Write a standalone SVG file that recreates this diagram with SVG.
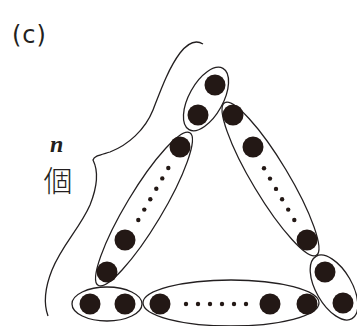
<svg xmlns="http://www.w3.org/2000/svg" width="357" height="326" viewBox="0 0 357 326">
<style>
.ell{fill:none;stroke:#231f20;stroke-width:1.3}
.dot{fill:#231815}
.sd{fill:#231815}
.br{fill:none;stroke:#231f20;stroke-width:1.3}
</style>
<rect width="357" height="326" fill="#fff"/>
<text x="12" y="43" font-family="'DejaVu Sans', sans-serif" font-size="24" letter-spacing="1" fill="#231f20">(c)</text>
<text x="50" y="152" font-family="'Liberation Serif', serif" font-size="24" font-style="italic" font-weight="bold" fill="#231f20">n</text>
<text x="58" y="192" font-family="'Noto Sans CJK JP', sans-serif" font-size="29" font-weight="300" text-anchor="middle" fill="#231f20">個</text>
<g id="connectors">
<path class="br" d="M203,44 C195,39 187,44 180,53 C168,69 160,92 153,110 C145,130 128,145 110,152 C100,155 94,156 93,160 C98,170 98,185 90,205 C80,228 62,245 52,270 C44,290 44,305 48,316"/>
</g>
<g id="top">
<ellipse class="ell" cx="206" cy="99" rx="35" ry="17" transform="rotate(-61 206 99)"/>
<circle class="dot" cx="215" cy="85" r="10.5"/>
<circle class="dot" cx="198" cy="115" r="10.5"/>
</g>
<g id="left">
<ellipse class="ell" cx="144" cy="209" rx="89" ry="18" transform="rotate(-59 144 209)"/>
<circle class="dot" cx="180" cy="147" r="10.5"/>
<circle class="dot" cx="125" cy="240" r="10.5"/>
<circle class="dot" cx="107" cy="272" r="10.5"/>
<circle class="sd" cx="138.3" cy="220" r="2.2"/>
<circle class="sd" cx="144.3" cy="209.6" r="2.2"/>
<circle class="sd" cx="150.3" cy="199.2" r="2.2"/>
<circle class="sd" cx="156.3" cy="188.8" r="2.2"/>
<circle class="sd" cx="162.3" cy="178.4" r="2.2"/>
<circle class="sd" cx="168.3" cy="168" r="2.2"/>
</g>
<g id="right">
<ellipse class="ell" cx="270.5" cy="179" rx="89" ry="18" transform="rotate(59 270.5 179)"/>
<circle class="dot" cx="233" cy="115" r="10.5"/>
<circle class="dot" cx="253" cy="147" r="10.5"/>
<circle class="dot" cx="307" cy="240" r="10.5"/>
<circle class="sd" cx="264" cy="168.3" r="2.2"/>
<circle class="sd" cx="270" cy="178.6" r="2.2"/>
<circle class="sd" cx="276" cy="188.9" r="2.2"/>
<circle class="sd" cx="282.1" cy="199.2" r="2.2"/>
<circle class="sd" cx="288.2" cy="209.6" r="2.2"/>
<circle class="sd" cx="294.3" cy="220" r="2.2"/>
</g>
<g id="corner-right">
<ellipse class="ell" cx="334" cy="287.5" rx="36" ry="18" transform="rotate(60 334 287.5)"/>
<circle class="dot" cx="325" cy="272" r="10.5"/>
<circle class="dot" cx="343" cy="303" r="10.5"/>
</g>
<g id="bottom">
<ellipse class="ell" cx="231" cy="303" rx="88" ry="23"/>
<circle class="dot" cx="160" cy="304" r="10.5"/>
<circle class="dot" cx="270" cy="304" r="10.5"/>
<circle class="dot" cx="307" cy="304" r="10.5"/>
<circle class="sd" cx="186" cy="304" r="2.2"/>
<circle class="sd" cx="198" cy="304" r="2.2"/>
<circle class="sd" cx="210" cy="304" r="2.2"/>
<circle class="sd" cx="222" cy="304" r="2.2"/>
<circle class="sd" cx="234" cy="304" r="2.2"/>
<circle class="sd" cx="246" cy="304" r="2.2"/>
</g>
<g id="corner-left">
<ellipse class="ell" cx="107" cy="304" rx="35" ry="17"/>
<circle class="dot" cx="90" cy="304" r="10.5"/>
<circle class="dot" cx="125" cy="304" r="10.5"/>
</g>
</svg>
